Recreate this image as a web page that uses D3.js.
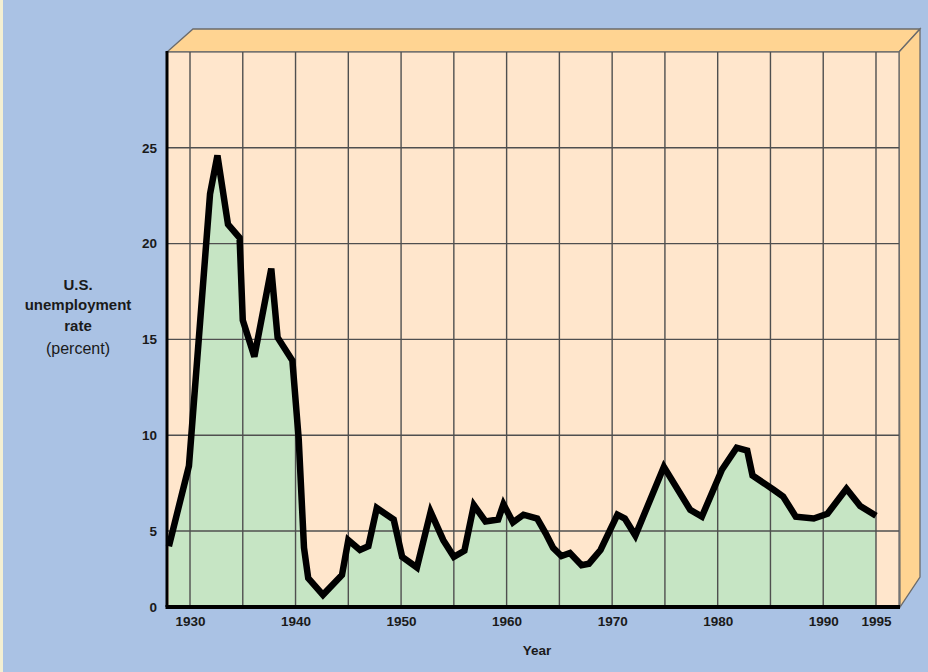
<!DOCTYPE html>
<html>
<head>
<meta charset="utf-8">
<script src="https://cdn.jsdelivr.net/npm/d3@7/dist/d3.min.js"></script>
<style>
  html, body { margin: 0; padding: 0; background: #aac2e4; }
  svg { display: block; }
</style>
</head>
<body>
<script>
// U.S. unemployment rate, 1928-1995 (percent)
const years = [1928.0, 1929.9, 1931.9, 1932.6, 1933.6, 1934.7, 1935.0, 1936.1, 1937.7, 1938.3,
  1939.7, 1940.3, 1940.8, 1941.2, 1942.6, 1944.4, 1945.0, 1946.1, 1946.9, 1947.7,
  1949.3, 1950.1, 1951.5, 1952.8, 1954.0, 1955.0, 1956.0, 1956.9, 1958.0, 1959.2,
  1959.7, 1960.6, 1961.6, 1962.9, 1963.7, 1964.4, 1965.2, 1966.0, 1967.1, 1967.8,
  1968.9, 1970.5, 1971.2, 1972.2, 1974.9, 1977.4, 1978.5, 1980.4, 1981.8, 1982.8,
  1983.3, 1985.3, 1986.2, 1987.4, 1989.1, 1990.4, 1992.2, 1993.5, 1995.0];
const rates = [4.0, 8.4, 22.6, 24.6, 21.0, 20.3, 16.0, 14.1, 18.7, 15.1,
  13.9, 9.8, 3.9, 1.9, 0.8, 2.1, 4.4, 3.75, 4.0, 6.2,
  5.6, 3.3, 2.6, 6.0, 4.4, 3.3, 3.7, 6.35, 5.5, 5.6,
  6.4, 5.45, 5.85, 5.65, 4.85, 3.9, 3.35, 3.55, 2.75, 2.85,
  3.75, 5.85, 5.65, 4.7, 8.35, 6.1, 5.75, 8.2, 9.35, 9.2,
  7.9, 7.15, 6.8, 5.75, 5.65, 5.9, 7.2, 6.3, 5.8];

const yTicks = [0, 5, 10, 15, 20, 25];
const yGrid = [5, 10, 15, 20, 25];
const xTicks = [1930, 1940, 1950, 1960, 1970, 1980, 1990, 1995];
const xGrid = [1930, 1935, 1940, 1945, 1950, 1955, 1960, 1965, 1970, 1975, 1980, 1985, 1990, 1995];
const yTitle = ["U.S.", "unemployment", "rate", "(percent)"];
const xTitle = "Year";

const W = 928, H = 672;
const pL = 167, pR = 899, pT = 52, pB = 607;
const depth = { dx: 21, dy: 23, dyBottom: 30 };

const svg = d3.select("body").append("svg")
  .attr("width", W).attr("height", H);

// page background with a pale strip on the left edge
svg.append("rect").attr("width", W).attr("height", H).attr("fill", "#aac2e4");
svg.append("rect").attr("width", 3).attr("height", H).attr("fill", "#f3efd2");

const x = d3.scaleLinear().domain([1927.82, 1997.18]).range([pL, pR]);
// the lowest band (0-5) is compressed on this chart
const y = d3.scaleLinear().domain([0, 5, 30]).range([pB, 531, pT]);

// box sides: top face and right face
const topFace = [[pL, pT], [pL + 26, pT - depth.dy], [pR + depth.dx, pT - depth.dy], [pR, pT]];
const sideFace = [[pR, pT], [pR + depth.dx, pT - depth.dy], [pR + depth.dx, pB - depth.dyBottom], [pR + 1, pB]];
svg.append("polygon").attr("points", topFace.join(" "))
  .attr("fill", "#ffd492").attr("stroke", "#6b6b6b").attr("stroke-width", 1.3);
svg.append("polygon").attr("points", sideFace.join(" "))
  .attr("fill", "#ffd492").attr("stroke", "#6b6b6b").attr("stroke-width", 1.3);

// front face
svg.append("rect").attr("x", pL).attr("y", pT)
  .attr("width", pR - pL).attr("height", pB - pT)
  .attr("fill", "#ffe6cc").attr("stroke", "#6b6b6b").attr("stroke-width", 1.3);

const pts = years.map((yr, i) => [yr, rates[i]]);

// shaded area under the curve
svg.append("path").datum(pts)
  .attr("fill", "#c6e5c4")
  .attr("d", d3.area().x(d => x(d[0])).y0(pB).y1(d => y(d[1])));

// grid
svg.append("g").selectAll("line").data(xGrid).join("line")
  .attr("x1", d => x(d)).attr("x2", d => x(d))
  .attr("y1", pT).attr("y2", pB)
  .attr("stroke", "#4f4f4f").attr("stroke-width", 1.4);
svg.append("g").selectAll("line").data(yGrid).join("line")
  .attr("x1", pL).attr("x2", pR)
  .attr("y1", d => y(d)).attr("y2", d => y(d))
  .attr("stroke", "#4f4f4f").attr("stroke-width", 1.4);

// data line
svg.append("path").datum(pts)
  .attr("fill", "none").attr("stroke", "#000").attr("stroke-width", 6.5)
  .attr("stroke-linejoin", "miter").attr("stroke-miterlimit", 4)
  .attr("d", d3.line().x(d => x(d[0])).y(d => y(d[1])));

// axes
svg.append("line").attr("x1", pL).attr("x2", pL).attr("y1", pT - 1).attr("y2", pB)
  .attr("stroke", "#000").attr("stroke-width", 3);
svg.append("line").attr("x1", pL - 1.5).attr("x2", pR + 1).attr("y1", pB).attr("y2", pB)
  .attr("stroke", "#000").attr("stroke-width", 4);

const font = "'Liberation Sans', Arial, sans-serif";

const yAxis = svg.append("g").attr("transform", `translate(${pL},0)`)
  .call(d3.axisLeft(y).tickValues(yTicks).tickSize(0).tickPadding(10).tickFormat(d3.format("d")));
yAxis.select(".domain").remove();
yAxis.selectAll("text").attr("font-family", font).attr("font-size", 13.5)
  .attr("font-weight", "bold").attr("fill", "#1a1a1a");

const xAxis = svg.append("g").attr("transform", `translate(0,${pB})`)
  .call(d3.axisBottom(x).tickValues(xTicks).tickSize(0).tickPadding(9).tickFormat(d3.format("d")));
xAxis.select(".domain").remove();
xAxis.selectAll("text").attr("font-family", font).attr("font-size", 13.5)
  .attr("font-weight", "bold").attr("fill", "#1a1a1a");

// titles
svg.append("text").attr("x", 537).attr("y", 655)
  .attr("text-anchor", "middle").attr("font-family", font).attr("font-size", 13.5)
  .attr("font-weight", "bold").attr("fill", "#1a1a1a").text(xTitle);

const lineY = [290, 310, 331, 354];
svg.append("g").selectAll("text").data(yTitle).join("text")
  .attr("x", 78).attr("y", (d, i) => lineY[i])
  .attr("text-anchor", "middle").attr("font-family", font)
  .attr("font-size", (d, i) => i < 3 ? 15 : 16)
  .attr("font-weight", (d, i) => i < 3 ? "bold" : "normal")
  .attr("fill", "#1a1a1a").text(d => d);
</script>
</body>
</html>
